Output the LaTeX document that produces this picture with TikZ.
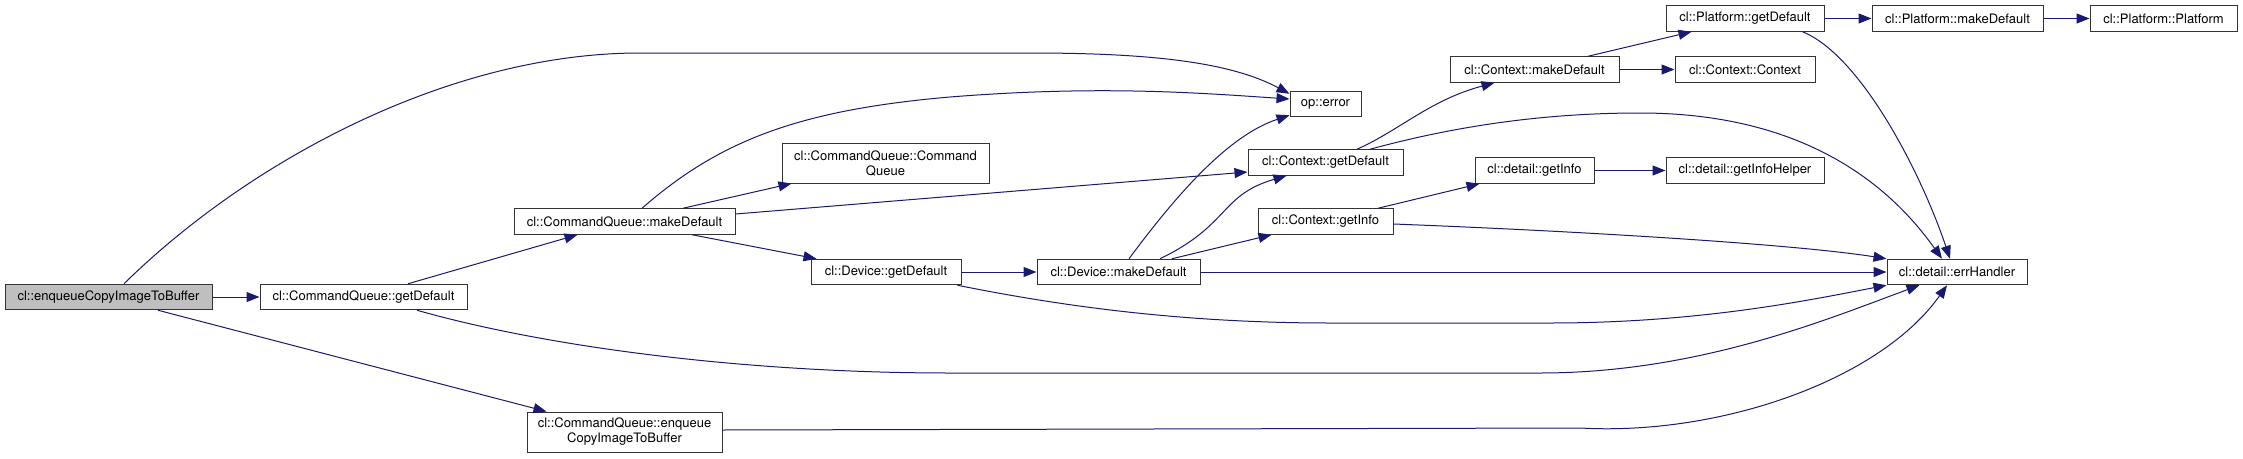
\documentclass[tikz,border=0pt]{standalone}
\usepackage{fontspec}
\setmainfont{TeX Gyre Heros}
\usepackage{tikz}
\usetikzlibrary{arrows.meta}
\definecolor{edgecol}{HTML}{191970}
\definecolor{boxline}{HTML}{333333}
\definecolor{rootfill}{HTML}{BFBFBF}

\begin{document}
\begin{tikzpicture}[x=1pt,y=-1pt,
  fn/.style={draw=boxline,line width=1pt,fill=white,inner sep=2pt,
             minimum height=25.5pt,align=center,
             font=\fontsize{13}{15}\selectfont},
  fntwo/.style={fn,minimum height=40pt},
  call/.style={-{Triangle[length=13pt,width=10pt]},edgecol,line width=1pt},
]
\useasboundingbox (0,0) rectangle (2243,458);

% functions
\node[fn,fill=rootfill,minimum width=207pt] (main) at (108.5,297) {cl::enqueueCopyImageToBuffer};
\node[fn,minimum width=207pt] (cqGet) at (363.5,297) {cl::CommandQueue::getDefault};
\node[fn,minimum width=221pt] (cqMake) at (624.5,221.5) {cl::CommandQueue::makeDefault};
\node[fntwo,minimum width=207pt] (cqCtor) at (885.5,163) {cl::CommandQueue::Command\\Queue};
\node[fntwo,minimum width=195pt] (cqEnq) at (624.5,432) {cl::CommandQueue::enqueue\\CopyImageToBuffer};
\node[fn,minimum width=150pt] (devGet) at (886,272) {cl::Device::getDefault};
\node[fn,minimum width=163pt] (devMake) at (1118.5,272) {cl::Device::makeDefault};
\node[fn,minimum width=71pt] (opErr) at (1325.5,104) {op::error};
\node[fn,minimum width=155pt] (ctxGet) at (1325.5,162.5) {cl::Context::getDefault};
\node[fn,minimum width=135pt] (ctxInfo) at (1325.5,221.5) {cl::Context::getInfo};
\node[fn,minimum width=169pt] (ctxMake) at (1534.5,69.5) {cl::Context::makeDefault};
\node[fn,minimum width=140pt] (ctxCtor) at (1745,69.5) {cl::Context::Context};
\node[fn,minimum width=158pt] (platGet) at (1745,18.5) {cl::Platform::getDefault};
\node[fn,minimum width=171pt] (platMake) at (1957.5,18.5) {cl::Platform::makeDefault};
\node[fn,minimum width=147pt] (platCtor) at (2163.5,18.5) {cl::Platform::Platform};
\node[fn,minimum width=119pt] (dInfo) at (1534.5,170.5) {cl::detail::getInfo};
\node[fn,minimum width=158pt] (dHelper) at (1745,170.5) {cl::detail::getInfoHelper};
\node[fn,minimum width=140pt] (errH) at (1957,272) {cl::detail::errHandler};

% calls from the root
\draw[call] (main) -- (cqGet);
\draw[call] ([xshift=15.5]main.north) .. controls (250,160) and (450,53) .. (640,53)
  -- (1030,53) .. controls (1150,53) and (1230,62) .. ([yshift=-3]opErr.north west);
\draw[call] ([xshift=49.5]main.south) -- ([xshift=20]cqEnq.north west);

% CommandQueue
\draw[call] ([xshift=44.5]cqGet.north) -- ([xshift=64]cqMake.south west);
\draw[call] ([xshift=53.5]cqGet.south) .. controls (550,348) and (750,373) .. (950,373)
  -- (1540,373) .. controls (1700,373) and (1830,318) .. ([xshift=33]errH.south west);
\draw[call] ([xshift=17.5]cqMake.north) .. controls (720,140) and (800,110) .. (950,97)
  .. controls (1100,85) and (1200,93) .. ([yshift=5]opErr.west);
\draw[call] ([xshift=58.5]cqMake.north) -- ([xshift=10]cqCtor.south west);
\draw[call] ([yshift=7.5]cqMake.east) -- ([yshift=-9.5]ctxGet.west);
\draw[call] ([xshift=67.5]cqMake.south) -- ([xshift=6]devGet.north west);
\draw[call] ([yshift=2]cqEnq.east) -- (1580,428)
  .. controls (1720,436) and (1880,380) .. ([xshift=-10]errH.south);

% Device
\draw[call] (devGet) -- (devMake);
\draw[call] ([xshift=-4]devGet.south east) .. controls (1080,310) and (1200,323) .. (1330,323)
  -- (1550,323) .. controls (1700,323) and (1810,300) .. (errH.south west);
\draw[call] ([xshift=10.5]devMake.north) .. controls (1180,190) and (1230,135)
  .. ([yshift=2]opErr.south west);
\draw[call] ([xshift=41.5]devMake.north) .. controls (1230,225) and (1220,195)
  .. ([xshift=39]ctxGet.south west);
\draw[call] ([xshift=53.5]devMake.north) -- ([xshift=14]ctxInfo.south west);
\draw[call] (devMake) -- (errH);

% Context
\draw[call] ([xshift=31.5]ctxGet.north) .. controls (1400,130) and (1430,100)
  .. ([xshift=45]ctxMake.south west);
\draw[call] ([xshift=44.5]ctxGet.north) .. controls (1470,122) and (1560,113) .. (1640,113)
  .. controls (1820,113) and (1900,200) .. ([xshift=-15]errH.north);
\draw[call] ([xshift=52.5]ctxInfo.north) -- ([xshift=5]dInfo.south west);
\draw[call] ([yshift=-2.5]ctxInfo.east) .. controls (1600,232) and (1800,245) .. (errH.north west);
\draw[call] ([xshift=53.5]ctxMake.north) -- ([xshift=26]platGet.south west);
\draw[call] (ctxMake) -- (ctxCtor);

% Platform and detail
\draw[call] (platGet) -- (platMake);
\draw[call] (platMake) -- (platCtor);
\draw[call] ([xshift=-22]platGet.south east) .. controls (1860,55) and (1920,170)
  .. ([xshift=-7]errH.north);
\draw[call] (dInfo) -- (dHelper);
\end{tikzpicture}
\end{document}
